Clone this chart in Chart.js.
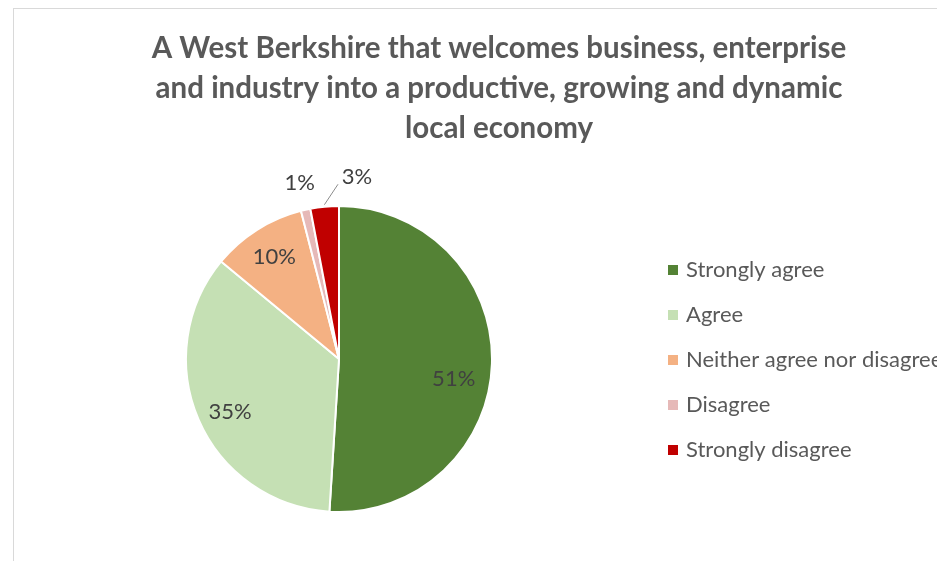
<!DOCTYPE html>
<html>
<head>
<meta charset="utf-8">
<script src="https://cdn.jsdelivr.net/npm/chart.js@4"></script>
<style>
  html, body { margin: 0; padding: 0; background: #fff; overflow: hidden; width: 937px; height: 561px; }
  #frame { position: absolute; left: 13px; top: 8px; width: 972px; height: 620px; border: 1px solid #d9d9d9; box-sizing: border-box; }
  #chart { display: block; }
</style>
</head>
<body>
<div id="frame"><canvas id="chart" width="970" height="618"></canvas></div>
<script>
  // survey answers, percent of respondents
  const categories = ['Strongly agree', 'Agree', 'Neither agree nor disagree', 'Disagree', 'Strongly disagree'];
  const shares = [51, 35, 10, 1, 3];
  const sliceColours = ['#548235', '#C5E0B4', '#F4B183', '#E6B9B8', '#C00000'];
  const titleLines = ['A West Berkshire that welcomes business, enterprise',
                      'and industry into a productive, growing and dynamic',
                      'local economy'];

  const FONT = 'Lato';

  // where each percent label sits: fraction of radius along the slice middle, plus a nudge
  const labelPlacement = [
    { r: 0.75, dx: 0, dy: 16 },
    { r: 0.79, dx: 2, dy: 5 },
    { r: 0.79, dx: 0, dy: 0 },
    { r: 1.18, dx: 0, dy: 0 },
    { r: 1.18, dx: 35, dy: -2, leader: true }
  ];

  const pieExtras = {
    id: 'pieExtras',
    beforeDraw(chart) {
      // three-line heading, centred over the whole frame
      const ctx = chart.ctx;
      ctx.save();
      ctx.font = 'bold 29.5px ' + FONT;
      ctx.fillStyle = '#595959';
      ctx.textAlign = 'center';
      ctx.textBaseline = 'middle';
      titleLines.forEach((t, i) => ctx.fillText(t, chart.width / 2, 39 + i * 40));
      ctx.restore();
    },
    afterDatasetsDraw(chart) {
      const ctx = chart.ctx;
      const arcs = chart.getDatasetMeta(0).data;
      const total = shares.reduce((a, b) => a + b, 0);
      ctx.save();
      ctx.font = '22px ' + FONT;
      ctx.fillStyle = '#404040';
      ctx.textAlign = 'center';
      ctx.textBaseline = 'middle';
      arcs.forEach((arc, i) => {
        const p = arc.getProps(['x', 'y', 'startAngle', 'endAngle', 'outerRadius'], true);
        const mid = (p.startAngle + p.endAngle) / 2;
        const pl = labelPlacement[i];
        const lx = p.x + Math.cos(mid) * p.outerRadius * pl.r + pl.dx;
        const ly = p.y + Math.sin(mid) * p.outerRadius * pl.r + pl.dy;
        if (pl.leader) {
          ctx.strokeStyle = '#8c8c8c';
          ctx.lineWidth = 1;
          ctx.beginPath();
          ctx.moveTo(p.x + Math.cos(mid) * (p.outerRadius + 2), p.y + Math.sin(mid) * (p.outerRadius + 2));
          ctx.lineTo(lx - 19, ly + 7);
          ctx.stroke();
        }
        ctx.fillText(Math.round(shares[i] / total * 100) + '%', lx, ly);
      });

      // legend on the right
      ctx.font = '22px ' + FONT;
      ctx.textAlign = 'left';
      categories.forEach((name, i) => {
        const y = 261 + i * 45;
        ctx.fillStyle = sliceColours[i];
        ctx.fillRect(654, y - 5, 10, 10);
        ctx.fillStyle = '#595959';
        ctx.fillText(name, 672, y);
      });
      ctx.restore();
    }
  };

  new Chart(document.getElementById('chart'), {
    type: 'pie',
    data: {
      labels: categories,
      datasets: [{
        data: shares,
        backgroundColor: sliceColours,
        borderColor: '#ffffff',
        borderWidth: 2,
        hoverOffset: 0
      }]
    },
    options: {
      responsive: false,
      animation: false,
      layout: { padding: { left: 171, right: 491, top: 149, bottom: 67 } },
      plugins: {
        legend: { display: false },
        tooltip: { enabled: false },
        title: { display: false }
      }
    },
    plugins: [pieExtras]
  });
</script>
</body>
</html>
